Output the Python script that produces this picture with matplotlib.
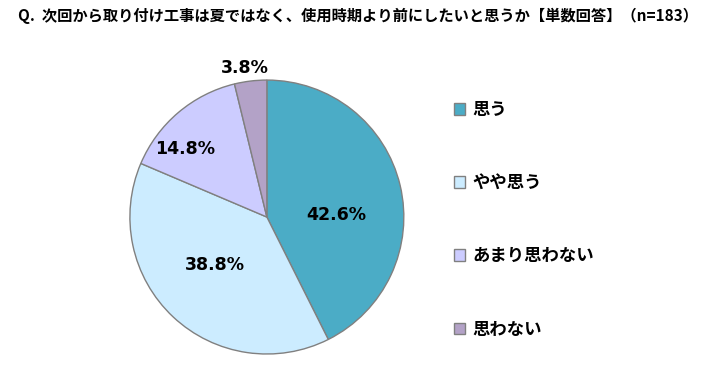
import matplotlib
matplotlib.use('Agg')

import matplotlib.pyplot as plt

plt.rcParams['font.family'] = ['Noto Sans CJK JP', 'DejaVu Sans']

title = "Q.  次回から取り付け工事は夏ではなく、使用時期より前にしたいと思うか【単数回答】（n=183）"
labels = ["思う", "やや思う", "あまり思わない", "思わない"]
values = [42.6, 38.8, 14.8, 3.8]
colors = ["#4BACC6", "#CCECFF", "#CCCCFF", "#B3A2C7"]
# label positions in pie units (radius = 1)
label_pos = [(0.51, 0.015), (-0.38, -0.35), (-0.60, 0.50), (-0.16, 1.09)]

fig = plt.figure(figsize=(7.06, 3.71), dpi=100)
ax = fig.add_axes([0.378 - 0.194, 0.415 - 0.3693, 0.388, 0.7386])

wedges, texts = ax.pie(values, colors=colors, startangle=90, counterclock=False,
                       wedgeprops=dict(edgecolor="#808080", linewidth=1.0))
ax.set_xlim(-1, 1)
ax.set_ylim(-1, 1)
ax.set_aspect('equal')

for v, (x, y) in zip(values, label_pos):
    ax.text(x, y, f"{v:.1f}%", ha="center", va="center", fontsize=12.5,
            fontweight="bold", family=["DejaVu Sans", "Noto Sans CJK JP"])

fig.text(0.026, 0.958, title, ha="left", va="center", fontsize=11, fontweight="bold")

fig.legend(wedges, labels, loc="upper left", bbox_to_anchor=(0.621, 0.77),
           frameon=False, handlelength=0.65, handleheight=0.65, handletextpad=0.4,
           labelspacing=3.18, prop=dict(size=12.5, weight="bold"))

fig.savefig("out.png", dpi=100)
